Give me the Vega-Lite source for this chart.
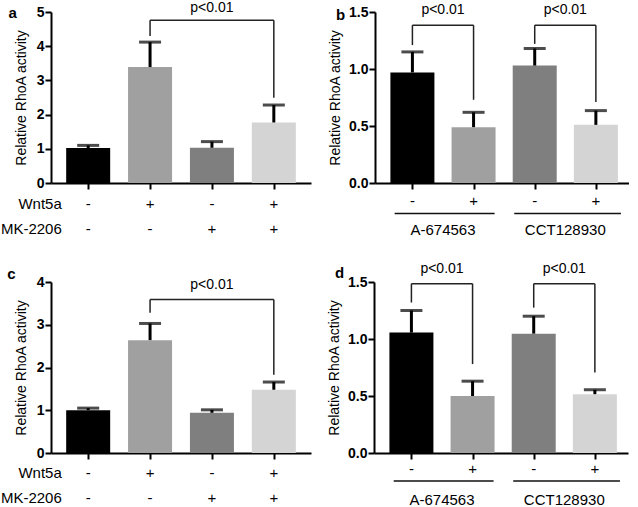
{
  "$schema": "https://vega.github.io/schema/vega-lite/v6.json",
  "padding": 0,
  "background": "white",
  "datasets": {
    "a": [
      {"idx": 1, "wnt": "-", "mk": "-", "mean": 1.02, "upper": 1.10},
      {"idx": 2, "wnt": "+", "mk": "-", "mean": 3.39, "upper": 4.12},
      {"idx": 3, "wnt": "-", "mk": "+", "mean": 1.03, "upper": 1.21},
      {"idx": 4, "wnt": "+", "mk": "+", "mean": 1.77, "upper": 2.28}
    ],
    "b": [
      {"idx": 1, "sign": "-", "drug": "A-674563", "mean": 0.97, "upper": 1.15},
      {"idx": 2, "sign": "+", "drug": "A-674563", "mean": 0.49, "upper": 0.62},
      {"idx": 3, "sign": "-", "drug": "CCT128930", "mean": 1.03, "upper": 1.18},
      {"idx": 4, "sign": "+", "drug": "CCT128930", "mean": 0.51, "upper": 0.635}
    ],
    "c": [
      {"idx": 1, "wnt": "-", "mk": "-", "mean": 1.0, "upper": 1.05},
      {"idx": 2, "wnt": "+", "mk": "-", "mean": 2.64, "upper": 3.03},
      {"idx": 3, "wnt": "-", "mk": "+", "mean": 0.94, "upper": 1.01},
      {"idx": 4, "wnt": "+", "mk": "+", "mean": 1.48, "upper": 1.66}
    ],
    "d": [
      {"idx": 1, "sign": "-", "drug": "A-674563", "mean": 1.056, "upper": 1.25},
      {"idx": 2, "sign": "+", "drug": "A-674563", "mean": 0.50, "upper": 0.63},
      {"idx": 3, "sign": "-", "drug": "CCT128930", "mean": 1.047, "upper": 1.20},
      {"idx": 4, "sign": "+", "drug": "CCT128930", "mean": 0.516, "upper": 0.555}
    ]
  },
  "spacing": 24,
  "bounds": "full",
  "vconcat": [
    {
      "spacing": 64,
      "bounds": "flush",
      "hconcat": [
        {
          "width": 260, "height": 171,
          "layer": [
            {"data": {"name": "a"}, "mark": {"type": "bar", "orient": "vertical", "width": 44},
             "encoding": {
               "x": {"field": "idx", "type": "quantitative", "scale": {"domain": [0.48, 4.52], "nice": false, "zero": false}, "axis": {"values": [1, 2, 3, 4], "labels": false, "title": null}},
               "y": {"field": "mean", "type": "quantitative", "scale": {"domain": [0, 5], "nice": false}, "axis": {"values": [0, 1, 2, 3, 4, 5], "tickCount": 6, "labelOverlap": false, "title": "Relative RhoA activity", "titlePadding": 8}},
               "color": {"field": "idx", "type": "nominal", "scale": {"domain": [1, 2, 3, 4], "range": ["#000000", "#a0a0a0", "#7f7f7f", "#d4d4d4"]}, "legend": null}
             }},
            {"data": {"name": "a"}, "mark": {"type": "rule", "strokeWidth": 3, "color": "#000000"},
             "encoding": {"x": {"field": "idx", "type": "quantitative"}, "y": {"field": "mean", "type": "quantitative", "axis": {"values": [0, 1, 2, 3, 4, 5], "tickCount": 6, "labelOverlap": false}}, "y2": {"field": "upper"}}},
            {"data": {"name": "a"}, "mark": {"type": "tick", "orient": "horizontal", "size": 22, "thickness": 3, "color": "#000000"},
             "encoding": {"x": {"field": "idx", "type": "quantitative"}, "y": {"field": "upper", "type": "quantitative", "axis": {"values": [0, 1, 2, 3, 4, 5], "tickCount": 6, "labelOverlap": false}}}},
            {"data": {"name": "a"}, "mark": {"type": "text", "fontSize": 15},
             "encoding": {"x": {"field": "idx", "type": "quantitative"}, "y": {"datum": -0.614, "axis": {"values": [0, 1, 2, 3, 4, 5], "tickCount": 6, "labelOverlap": false}}, "text": {"field": "wnt"}}},
            {"data": {"name": "a"}, "mark": {"type": "text", "fontSize": 15},
             "encoding": {"x": {"field": "idx", "type": "quantitative"}, "y": {"datum": -1.345, "axis": {"values": [0, 1, 2, 3, 4, 5], "tickCount": 6, "labelOverlap": false}}, "text": {"field": "mk"}}},
            {"data": {"values": [{}]}, "mark": {"type": "text", "fontSize": 15, "align": "right"},
             "encoding": {"x": {"datum": 0.573}, "y": {"datum": -0.614, "axis": {"values": [0, 1, 2, 3, 4, 5], "tickCount": 6, "labelOverlap": false}}, "text": {"value": "Wnt5a"}}},
            {"data": {"values": [{}]}, "mark": {"type": "text", "fontSize": 15, "align": "right"},
             "encoding": {"x": {"datum": 0.573}, "y": {"datum": -1.345, "axis": {"values": [0, 1, 2, 3, 4, 5], "tickCount": 6, "labelOverlap": false}}, "text": {"value": "MK-2206"}}},
            {"data": {"values": [{}]}, "mark": {"type": "rule", "strokeWidth": 1.5, "color": "#222222"},
             "encoding": {"x": {"datum": 2}, "y": {"datum": 4.30, "axis": {"values": [0, 1, 2, 3, 4, 5], "tickCount": 6, "labelOverlap": false}}, "y2": {"datum": 4.76}}},
            {"data": {"values": [{}]}, "mark": {"type": "rule", "strokeWidth": 1.5, "color": "#222222"},
             "encoding": {"x": {"datum": 2}, "x2": {"datum": 4}, "y": {"datum": 4.76, "axis": {"values": [0, 1, 2, 3, 4, 5], "tickCount": 6, "labelOverlap": false}}}},
            {"data": {"values": [{}]}, "mark": {"type": "rule", "strokeWidth": 1.5, "color": "#222222"},
             "encoding": {"x": {"datum": 4}, "y": {"datum": 4.76, "axis": {"values": [0, 1, 2, 3, 4, 5], "tickCount": 6, "labelOverlap": false}}, "y2": {"datum": 2.49}}},
            {"data": {"values": [{}]}, "mark": {"type": "text", "fontSize": 14},
             "encoding": {"x": {"datum": 3}, "y": {"datum": 5.12, "axis": {"values": [0, 1, 2, 3, 4, 5], "tickCount": 6, "labelOverlap": false}}, "text": {"value": "p<0.01"}}},
            {"data": {"values": [{}]}, "mark": {"type": "text", "fontSize": 15, "fontWeight": "bold"},
             "encoding": {"x": {"datum": -0.219}, "y": {"datum": 4.97, "axis": {"values": [0, 1, 2, 3, 4, 5], "tickCount": 6, "labelOverlap": false}}, "text": {"value": "a"}}}
          ]
        },
        {
          "width": 254, "height": 171,
          "layer": [
            {"data": {"name": "b"}, "mark": {"type": "bar", "orient": "vertical", "width": 44},
             "encoding": {
               "x": {"field": "idx", "type": "quantitative", "scale": {"domain": [0.47, 4.46], "nice": false, "zero": false}, "axis": {"values": [1, 2, 3, 4], "labels": false, "title": null}},
               "y": {"field": "mean", "type": "quantitative", "scale": {"domain": [0, 1.5], "nice": false}, "axis": {"values": [0, 0.5, 1, 1.5], "format": ".1f", "labelOverlap": false, "title": "Relative RhoA activity", "titlePadding": 6}},
               "color": {"field": "idx", "type": "nominal", "scale": {"domain": [1, 2, 3, 4], "range": ["#000000", "#a0a0a0", "#7f7f7f", "#d4d4d4"]}, "legend": null}
             }},
            {"data": {"name": "b"}, "mark": {"type": "rule", "strokeWidth": 3, "color": "#000000"},
             "encoding": {"x": {"field": "idx", "type": "quantitative"}, "y": {"field": "mean", "type": "quantitative"}, "y2": {"field": "upper"}}},
            {"data": {"name": "b"}, "mark": {"type": "tick", "orient": "horizontal", "size": 22, "thickness": 3, "color": "#000000"},
             "encoding": {"x": {"field": "idx", "type": "quantitative"}, "y": {"field": "upper", "type": "quantitative"}}},
            {"data": {"name": "b"}, "mark": {"type": "text", "fontSize": 15},
             "encoding": {"x": {"field": "idx", "type": "quantitative"}, "y": {"datum": -0.157}, "text": {"field": "sign"}}},
            {"data": {"name": "b"}, "transform": [{"aggregate": [{"op": "mean", "field": "idx", "as": "cx"}], "groupby": ["drug"]}],
             "mark": {"type": "text", "fontSize": 15},
             "encoding": {"x": {"field": "cx", "type": "quantitative"}, "y": {"datum": -0.411}, "text": {"field": "drug"}}},
            {"data": {"values": [{}]}, "mark": {"type": "rule", "strokeWidth": 1.6, "color": "#111111"},
             "encoding": {"x": {"datum": 0.71}, "x2": {"datum": 2.344}, "y": {"datum": -0.268}}},
            {"data": {"values": [{}]}, "mark": {"type": "rule", "strokeWidth": 1.6, "color": "#111111"},
             "encoding": {"x": {"datum": 2.665}, "x2": {"datum": 4.41}, "y": {"datum": -0.268}}},
            {"data": {"values": [{}]}, "mark": {"type": "rule", "strokeWidth": 1.5, "color": "#222222"},
             "encoding": {"x": {"datum": 1}, "y": {"datum": 1.21}, "y2": {"datum": 1.384}}},
            {"data": {"values": [{}]}, "mark": {"type": "rule", "strokeWidth": 1.5, "color": "#222222"},
             "encoding": {"x": {"datum": 1}, "x2": {"datum": 2}, "y": {"datum": 1.384}}},
            {"data": {"values": [{}]}, "mark": {"type": "rule", "strokeWidth": 1.5, "color": "#222222"},
             "encoding": {"x": {"datum": 2}, "y": {"datum": 1.384}, "y2": {"datum": 0.73}}},
            {"data": {"values": [{}]}, "mark": {"type": "rule", "strokeWidth": 1.5, "color": "#222222"},
             "encoding": {"x": {"datum": 3}, "y": {"datum": 1.22}, "y2": {"datum": 1.384}}},
            {"data": {"values": [{}]}, "mark": {"type": "rule", "strokeWidth": 1.5, "color": "#222222"},
             "encoding": {"x": {"datum": 3}, "x2": {"datum": 4}, "y": {"datum": 1.384}}},
            {"data": {"values": [{}]}, "mark": {"type": "rule", "strokeWidth": 1.5, "color": "#222222"},
             "encoding": {"x": {"datum": 4}, "y": {"datum": 1.384}, "y2": {"datum": 0.71}}},
            {"data": {"values": [{}]}, "mark": {"type": "text", "fontSize": 14},
             "encoding": {"x": {"datum": 1.5}, "y": {"datum": 1.515}, "text": {"value": "p<0.01"}}},
            {"data": {"values": [{}]}, "mark": {"type": "text", "fontSize": 14},
             "encoding": {"x": {"datum": 3.5}, "y": {"datum": 1.515}, "text": {"value": "p<0.01"}}},
            {"data": {"values": [{}]}, "mark": {"type": "text", "fontSize": 15, "fontWeight": "bold"},
             "encoding": {"x": {"datum": -0.174}, "y": {"datum": 1.47}, "text": {"value": "b"}}}
          ]
        }
      ]
    },
    {
      "spacing": 63,
      "bounds": "flush",
      "hconcat": [
        {
          "width": 260, "height": 171,
          "layer": [
            {"data": {"name": "c"}, "mark": {"type": "bar", "orient": "vertical", "width": 44},
             "encoding": {
               "x": {"field": "idx", "type": "quantitative", "scale": {"domain": [0.48, 4.52], "nice": false, "zero": false}, "axis": {"values": [1, 2, 3, 4], "labels": false, "title": null}},
               "y": {"field": "mean", "type": "quantitative", "scale": {"domain": [0, 4], "nice": false}, "axis": {"values": [0, 1, 2, 3, 4], "labelOverlap": false, "title": "Relative RhoA activity", "titlePadding": 8}},
               "color": {"field": "idx", "type": "nominal", "scale": {"domain": [1, 2, 3, 4], "range": ["#000000", "#a0a0a0", "#7f7f7f", "#d4d4d4"]}, "legend": null}
             }},
            {"data": {"name": "c"}, "mark": {"type": "rule", "strokeWidth": 3, "color": "#000000"},
             "encoding": {"x": {"field": "idx", "type": "quantitative"}, "y": {"field": "mean", "type": "quantitative"}, "y2": {"field": "upper"}}},
            {"data": {"name": "c"}, "mark": {"type": "tick", "orient": "horizontal", "size": 22, "thickness": 3, "color": "#000000"},
             "encoding": {"x": {"field": "idx", "type": "quantitative"}, "y": {"field": "upper", "type": "quantitative"}}},
            {"data": {"name": "c"}, "mark": {"type": "text", "fontSize": 15},
             "encoding": {"x": {"field": "idx", "type": "quantitative"}, "y": {"datum": -0.461}, "text": {"field": "wnt"}}},
            {"data": {"name": "c"}, "mark": {"type": "text", "fontSize": 15},
             "encoding": {"x": {"field": "idx", "type": "quantitative"}, "y": {"datum": -1.047}, "text": {"field": "mk"}}},
            {"data": {"values": [{}]}, "mark": {"type": "text", "fontSize": 15, "align": "right"},
             "encoding": {"x": {"datum": 0.573}, "y": {"datum": -0.461}, "text": {"value": "Wnt5a"}}},
            {"data": {"values": [{}]}, "mark": {"type": "text", "fontSize": 15, "align": "right"},
             "encoding": {"x": {"datum": 0.573}, "y": {"datum": -1.047}, "text": {"value": "MK-2206"}}},
            {"data": {"values": [{}]}, "mark": {"type": "rule", "strokeWidth": 1.5, "color": "#222222"},
             "encoding": {"x": {"datum": 2}, "y": {"datum": 3.28}, "y2": {"datum": 3.59}}},
            {"data": {"values": [{}]}, "mark": {"type": "rule", "strokeWidth": 1.5, "color": "#222222"},
             "encoding": {"x": {"datum": 2}, "x2": {"datum": 4}, "y": {"datum": 3.59}}},
            {"data": {"values": [{}]}, "mark": {"type": "rule", "strokeWidth": 1.5, "color": "#222222"},
             "encoding": {"x": {"datum": 4}, "y": {"datum": 3.59}, "y2": {"datum": 1.83}}},
            {"data": {"values": [{}]}, "mark": {"type": "text", "fontSize": 14},
             "encoding": {"x": {"datum": 3}, "y": {"datum": 3.94}, "text": {"value": "p<0.01"}}},
            {"data": {"values": [{}]}, "mark": {"type": "text", "fontSize": 15, "fontWeight": "bold"},
             "encoding": {"x": {"datum": -0.24}, "y": {"datum": 4.18}, "text": {"value": "c"}}}
          ]
        },
        {
          "width": 254, "height": 171,
          "layer": [
            {"data": {"name": "d"}, "mark": {"type": "bar", "orient": "vertical", "width": 44},
             "encoding": {
               "x": {"field": "idx", "type": "quantitative", "scale": {"domain": [0.47, 4.46], "nice": false, "zero": false}, "axis": {"values": [1, 2, 3, 4], "labels": false, "title": null}},
               "y": {"field": "mean", "type": "quantitative", "scale": {"domain": [0, 1.5], "nice": false}, "axis": {"values": [0, 0.5, 1, 1.5], "format": ".1f", "labelOverlap": false, "title": "Relative RhoA activity", "titlePadding": 6}},
               "color": {"field": "idx", "type": "nominal", "scale": {"domain": [1, 2, 3, 4], "range": ["#000000", "#a0a0a0", "#7f7f7f", "#d4d4d4"]}, "legend": null}
             }},
            {"data": {"name": "d"}, "mark": {"type": "rule", "strokeWidth": 3, "color": "#000000"},
             "encoding": {"x": {"field": "idx", "type": "quantitative"}, "y": {"field": "mean", "type": "quantitative"}, "y2": {"field": "upper"}}},
            {"data": {"name": "d"}, "mark": {"type": "tick", "orient": "horizontal", "size": 22, "thickness": 3, "color": "#000000"},
             "encoding": {"x": {"field": "idx", "type": "quantitative"}, "y": {"field": "upper", "type": "quantitative"}}},
            {"data": {"name": "d"}, "mark": {"type": "text", "fontSize": 15},
             "encoding": {"x": {"field": "idx", "type": "quantitative"}, "y": {"datum": -0.14}, "text": {"field": "sign"}}},
            {"data": {"name": "d"}, "transform": [{"aggregate": [{"op": "mean", "field": "idx", "as": "cx"}], "groupby": ["drug"]}],
             "mark": {"type": "text", "fontSize": 15},
             "encoding": {"x": {"field": "cx", "type": "quantitative"}, "y": {"datum": -0.414}, "text": {"field": "drug"}}},
            {"data": {"values": [{}]}, "mark": {"type": "rule", "strokeWidth": 1.6, "color": "#111111"},
             "encoding": {"x": {"datum": 0.71}, "x2": {"datum": 2.344}, "y": {"datum": -0.245}}},
            {"data": {"values": [{}]}, "mark": {"type": "rule", "strokeWidth": 1.6, "color": "#111111"},
             "encoding": {"x": {"datum": 2.665}, "x2": {"datum": 4.41}, "y": {"datum": -0.245}}},
            {"data": {"values": [{}]}, "mark": {"type": "rule", "strokeWidth": 1.5, "color": "#222222"},
             "encoding": {"x": {"datum": 1}, "y": {"datum": 1.32}, "y2": {"datum": 1.485}}},
            {"data": {"values": [{}]}, "mark": {"type": "rule", "strokeWidth": 1.5, "color": "#222222"},
             "encoding": {"x": {"datum": 1}, "x2": {"datum": 2}, "y": {"datum": 1.485}}},
            {"data": {"values": [{}]}, "mark": {"type": "rule", "strokeWidth": 1.5, "color": "#222222"},
             "encoding": {"x": {"datum": 2}, "y": {"datum": 1.485}, "y2": {"datum": 0.78}}},
            {"data": {"values": [{}]}, "mark": {"type": "rule", "strokeWidth": 1.5, "color": "#222222"},
             "encoding": {"x": {"datum": 3}, "y": {"datum": 1.275}, "y2": {"datum": 1.485}}},
            {"data": {"values": [{}]}, "mark": {"type": "rule", "strokeWidth": 1.5, "color": "#222222"},
             "encoding": {"x": {"datum": 3}, "x2": {"datum": 4}, "y": {"datum": 1.485}}},
            {"data": {"values": [{}]}, "mark": {"type": "rule", "strokeWidth": 1.5, "color": "#222222"},
             "encoding": {"x": {"datum": 4}, "y": {"datum": 1.485}, "y2": {"datum": 0.706}}},
            {"data": {"values": [{}]}, "mark": {"type": "text", "fontSize": 14},
             "encoding": {"x": {"datum": 1.5}, "y": {"datum": 1.61}, "text": {"value": "p<0.01"}}},
            {"data": {"values": [{}]}, "mark": {"type": "text", "fontSize": 14},
             "encoding": {"x": {"datum": 3.5}, "y": {"datum": 1.61}, "text": {"value": "p<0.01"}}},
            {"data": {"values": [{}]}, "mark": {"type": "text", "fontSize": 15, "fontWeight": "bold"},
             "encoding": {"x": {"datum": -0.174}, "y": {"datum": 1.58}, "text": {"value": "d"}}}
          ]
        }
      ]
    }
  ],
  "config": {
    "font": "Liberation Sans",
    "view": {"stroke": null},
    "axis": {
      "grid": false,
      "domainColor": "#000000",
      "domainWidth": 2,
      "tickColor": "#000000",
      "tickWidth": 2,
      "tickSize": 6,
      "labelFont": "Liberation Sans",
      "labelFontSize": 14,
      "labelFontWeight": "bold",
      "labelColor": "#000000",
      "labelPadding": 1,
      "labelOverlap": false,
      "titleFont": "Liberation Sans",
      "titleFontSize": 14,
      "titleFontWeight": "normal",
      "titleColor": "#000000"
    },
    "text": {"font": "Liberation Sans", "color": "#000000"}
  }
}
